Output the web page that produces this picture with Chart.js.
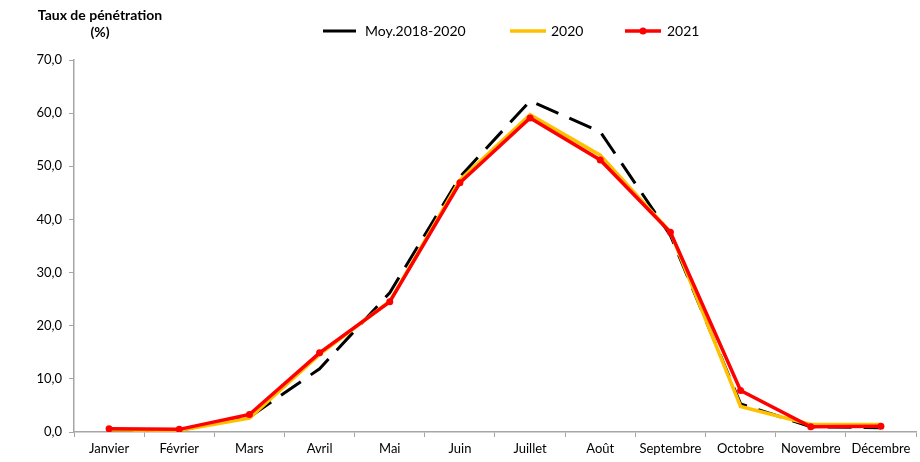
<!DOCTYPE html>
<html>
<head>
<meta charset="utf-8">
<script src="https://cdn.jsdelivr.net/npm/chart.js@4"></script>
<style>
  html, body { margin: 0; padding: 0; background: #fff; }
  #wrap { width: 920px; height: 462px; position: relative; }
</style>
</head>
<body>
<div id="wrap"><canvas id="penetration"></canvas></div>
<script>
const months = ['Janvier', 'Février', 'Mars', 'Avril', 'Mai', 'Juin', 'Juillet', 'Août', 'Septembre', 'Octobre', 'Novembre', 'Décembre'];
const moy2018_2020 = [0.4, 0.3, 2.8, 11.9, 26.2, 48.0, 62.3, 56.5, 37.0, 5.3, 1.0, 0.8];
const values2020 = [0.4, 0.3, 2.6, 14.6, 24.6, 47.4, 59.7, 52.1, 37.6, 4.8, 1.4, 1.4];
const values2021 = [0.6, 0.5, 3.3, 14.9, 24.5, 46.9, 59.1, 51.2, 37.6, 7.8, 1.0, 1.1];
const axisTitle = ['Taux de pénétration', '(%)'];

const FONT = 'Lato, "Liberation Sans", sans-serif';
const axisGrey = '#a6a6a6';

// title at top left + legend drawn by hand (Excel style line samples)
const extras = {
    id: 'extras',
    afterDraw(chart) {
        const ctx = chart.ctx;
        ctx.save();
        ctx.fillStyle = '#000';
        ctx.textBaseline = 'middle';
        ctx.textAlign = 'center';
        ctx.font = 'bold 14px ' + FONT;
        ctx.fillText(axisTitle[0], 100, 15);
        ctx.fillText(axisTitle[1], 100, 32);

        ctx.textAlign = 'left';
        ctx.font = '14px ' + FONT;
        const y = 31;
        chart.data.datasets.forEach(ds => {
            const lg = ds.legend;
            ctx.beginPath();
            ctx.strokeStyle = ds.borderColor;
            ctx.lineWidth = ds.borderWidth;
            ctx.moveTo(lg.x0, y);
            ctx.lineTo(lg.x1, y);
            ctx.stroke();
            if (ds.pointRadius > 0) {
                ctx.beginPath();
                ctx.fillStyle = ds.pointBackgroundColor;
                ctx.arc((lg.x0 + lg.x1) / 2, y, ds.pointRadius, 0, Math.PI * 2);
                ctx.fill();
            }
            ctx.fillStyle = '#000';
            ctx.fillText(ds.label, lg.tx, y);
        });
        ctx.restore();
    }
};

new Chart(document.getElementById('penetration'), {
    type: 'line',
    data: {
        labels: months,
        datasets: [{
            label: 'Moy.2018-2020',
            data: moy2018_2020,
            borderColor: '#000000',
            borderWidth: 3,
            borderDash: [24, 12],
            pointRadius: 0,
            order: 3,
            legend: { x0: 323, x1: 356, tx: 365 }
        }, {
            label: '2020',
            data: values2020,
            borderColor: '#ffc000',
            borderWidth: 3.5,
            pointRadius: 0,
            order: 2,
            legend: { x0: 510, x1: 546, tx: 551 }
        }, {
            label: '2021',
            data: values2021,
            borderColor: '#ff0000',
            borderWidth: 3.5,
            pointRadius: 3.5,
            pointBackgroundColor: '#ff0000',
            pointBorderWidth: 0,
            order: 1,
            legend: { x0: 625, x1: 661, tx: 667 }
        }]
    },
    options: {
        responsive: true,
        maintainAspectRatio: false,
        animation: false,
        layout: { padding: { top: 60, right: 0, left: 0, bottom: 0 } },
        plugins: {
            legend: { display: false },
            tooltip: { enabled: false }
        },
        elements: { line: { tension: 0 } },
        scales: {
            x: {
                offset: true,
                grid: { offset: true, drawOnChartArea: false, drawTicks: true, tickLength: 5, color: axisGrey },
                border: { color: axisGrey, width: 1.5 },
                ticks: { color: '#000', font: { family: FONT, size: 13 }, maxRotation: 0, autoSkip: false, padding: 4 },
                afterFit(scale) { scale.height = 30; }
            },
            y: {
                min: 0,
                max: 70,
                grid: { drawOnChartArea: false, drawTicks: true, tickLength: 5, color: axisGrey },
                border: { color: axisGrey, width: 1.5 },
                ticks: {
                    stepSize: 10,
                    color: '#000',
                    font: { family: FONT, size: 13 },
                    padding: 7,
                    callback: v => v.toFixed(1).replace('.', ',')
                },
                afterFit(scale) { scale.width = 74; }
            }
        }
    },
    plugins: [extras]
});
</script>
</body>
</html>
